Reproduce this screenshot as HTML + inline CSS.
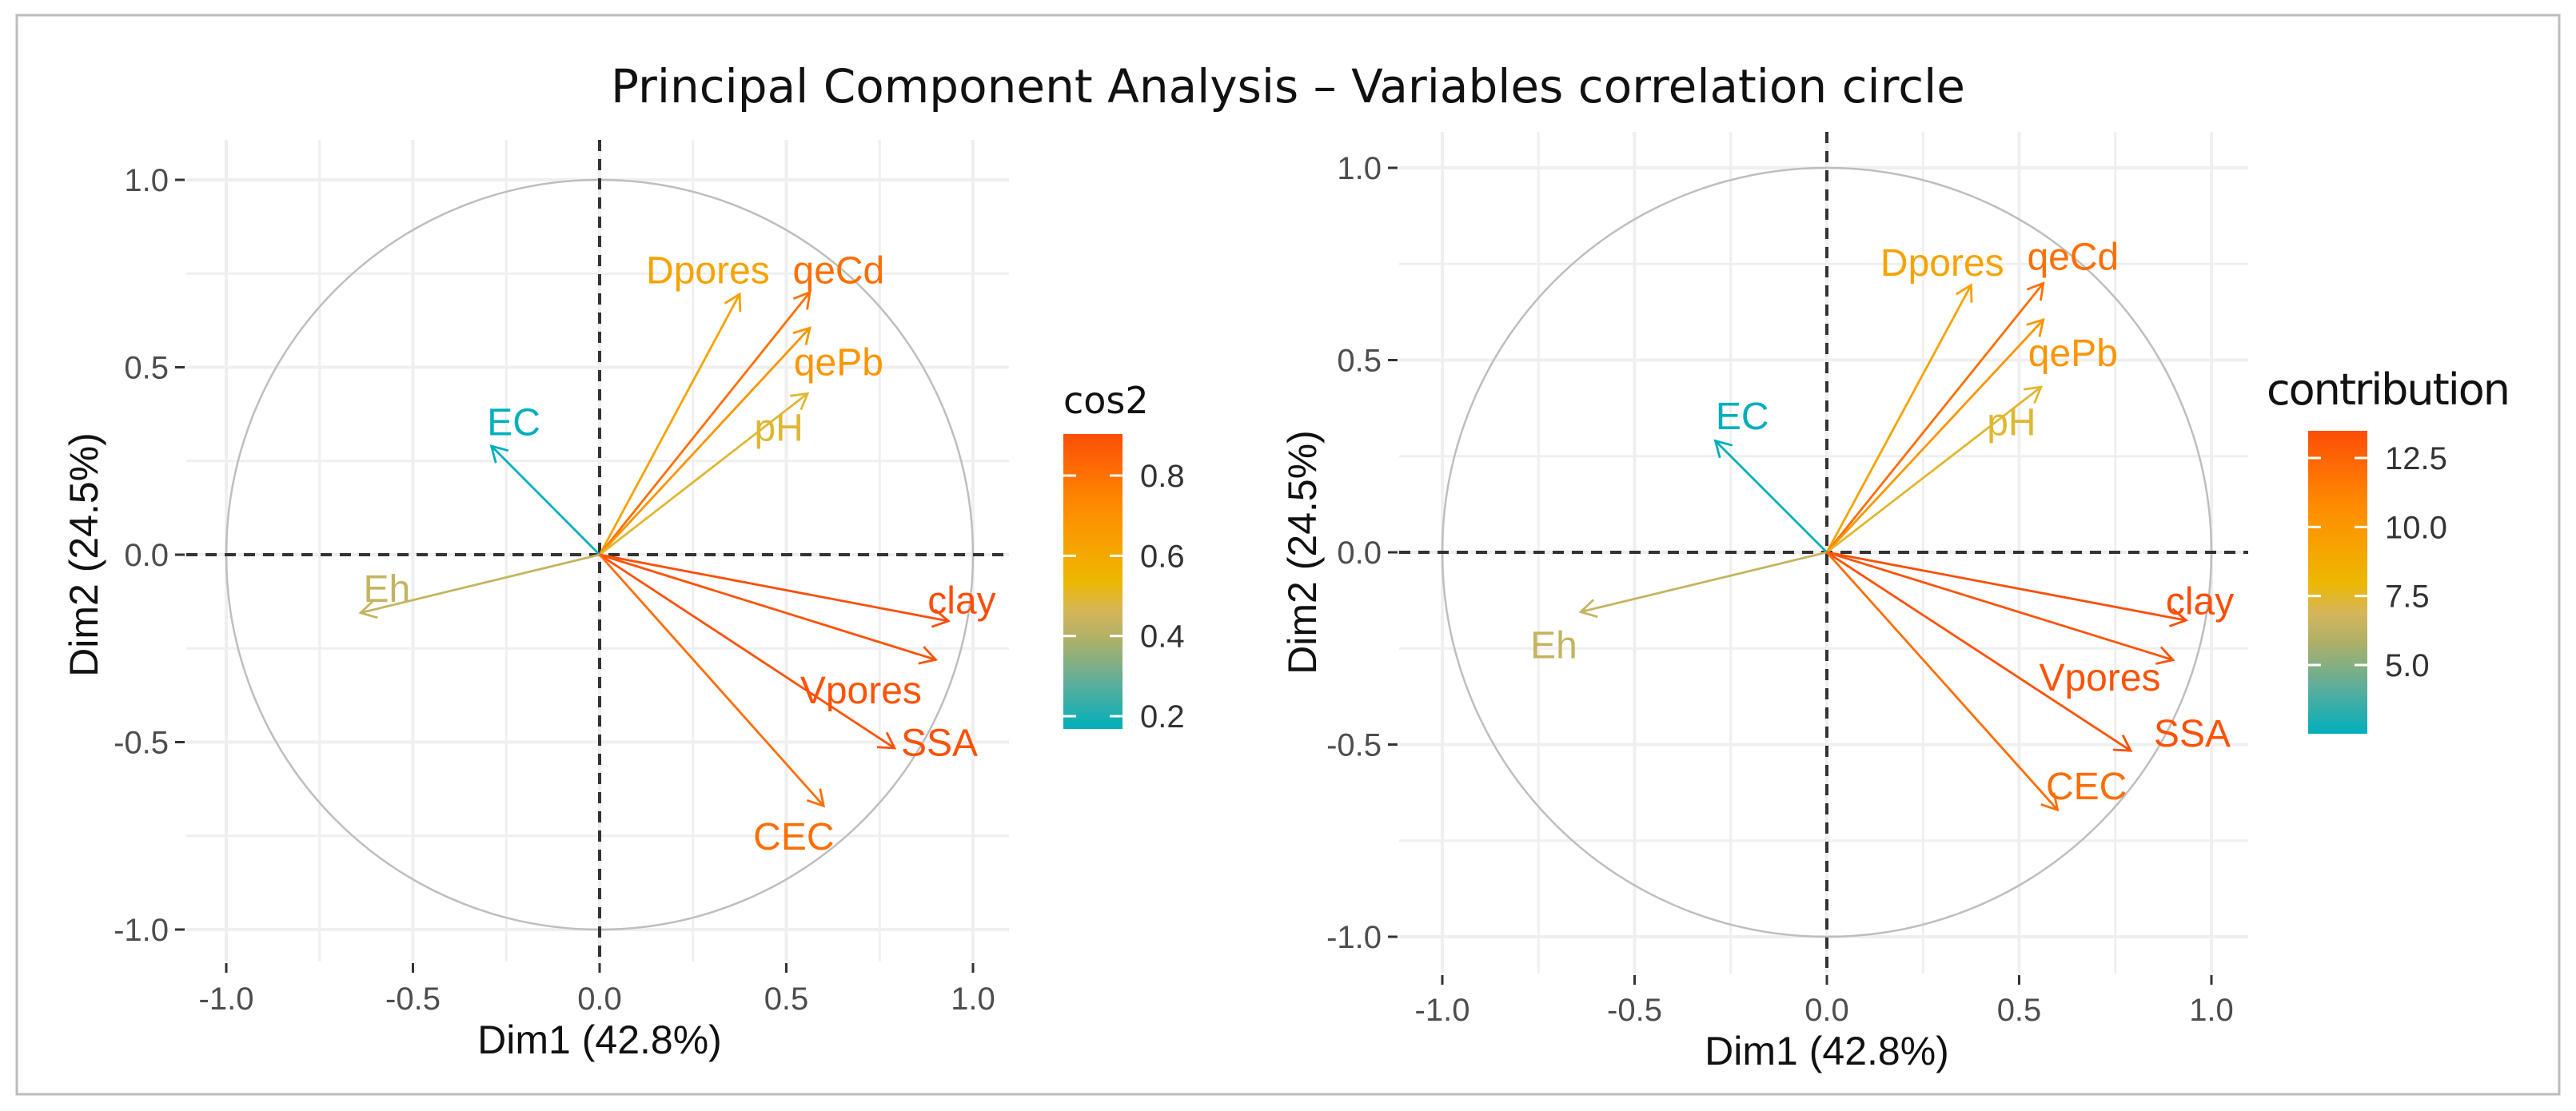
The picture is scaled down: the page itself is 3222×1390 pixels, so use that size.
<!DOCTYPE html>
<html><head><meta charset="utf-8"><style>
html,body{margin:0;padding:0;background:#fff}
svg{display:block}
text{font-family:"Liberation Sans",sans-serif}
</style></head><body>
<svg id="fig" width="3222" height="1390" viewBox="0 0 3222 1390" xmlns="http://www.w3.org/2000/svg">
<defs>
<linearGradient id="lg" x1="0" y1="1" x2="0" y2="0">
<stop offset="0" stop-color="#00AFBB"/><stop offset="0.15" stop-color="#5BAE9C"/><stop offset="0.3" stop-color="#ADB068"/><stop offset="0.4" stop-color="#D5B65A"/><stop offset="0.5" stop-color="#EDB800"/><stop offset="0.75" stop-color="#FF8C00"/><stop offset="1" stop-color="#FC4E07"/>
</linearGradient>
</defs>
<rect x="21" y="19" width="3180" height="1350" fill="none" stroke="#BDBDBD" stroke-width="3"/>
<text x="1611" y="128" text-anchor="middle" font-size="58" fill="#111" textLength="1694" lengthAdjust="spacingAndGlyphs" style="font-family:'DejaVu Sans','Liberation Sans',sans-serif">Principal Component Analysis – Variables correlation circle</text>
</svg>
<script>
const variables = ["Dpores","qeCd","qePb","pH","EC","Eh","clay","Vpores","SSA","CEC"];
const dim1 = [0.375,0.563,0.563,0.557,-0.29,-0.64,0.934,0.90,0.79,0.60];
const dim2 = [0.695,0.70,0.605,0.43,0.29,-0.155,-0.177,-0.28,-0.516,-0.67];
const labelX1 = [0.29,0.64,0.64,0.48,-0.23,-0.57,0.97,0.70,0.91,0.52];
const labelY1 = [0.76,0.76,0.515,0.34,0.355,-0.09,-0.12,-0.36,-0.50,-0.75];
const labelX2 = [0.30,0.64,0.64,0.48,-0.22,-0.71,0.97,0.71,0.95,0.675];
const labelY2 = [0.755,0.77,0.52,0.34,0.355,-0.24,-0.126,-0.324,-0.47,-0.607];
const axisTicks = [-1.0,-0.5,0.0,0.5,1.0];
const axisTickLabels = ["-1.0","-0.5","0.0","0.5","1.0"];
const cos2Ticks = [0.2,0.4,0.6,0.8];
const cos2TickLabels = ["0.2","0.4","0.6","0.8"];
const contribTicks = [5.0,7.5,10.0,12.5];
const contribTickLabels = ["5.0","7.5","10.0","12.5"];

const NS="http://www.w3.org/2000/svg";
const svg=document.getElementById('fig');
function mk(tag,attrs,parent){const e=document.createElementNS(NS,tag);for(const k in attrs)e.setAttribute(k,attrs[k]);(parent||svg).appendChild(e);return e;}
function hex(c){return [parseInt(c.slice(1,3),16),parseInt(c.slice(3,5),16),parseInt(c.slice(5,7),16)];}
const gradPos=[0,0.15,0.3,0.4,0.5,0.75,1];
const gradCol=["#00AFBB","#5BAE9C","#ADB068","#D5B65A","#EDB800","#FF8C00","#FC4E07"].map(hex);
function colorAt(t){t=Math.max(0,Math.min(1,t));let k=0;while(k<gradPos.length-2&&t>gradPos[k+1])k++;
 const u=(t-gradPos[k])/(gradPos[k+1]-gradPos[k]);const a=gradCol[k],b=gradCol[k+1];
 const c=a.map((v,i)=>Math.round(v+(b[i]-v)*u));return `rgb(${c[0]},${c[1]},${c[2]})`;}

const cos2 = variables.map((v,i)=>dim1[i]*dim1[i]+dim2[i]*dim2[i]);
const cos2Sum = cos2.reduce((a,b)=>a+b,0);
const contrib = cos2.map(c=>c/cos2Sum*100);

function panel(p){
  const g=mk('g',{});
  
  
  const sx=v=>p.x0+v*p.ux, sy=v=>p.y0-v*p.uy;
  for(let v=-1;v<=1.001;v+=0.25){
    const major=Math.abs(Math.round(v*2)-v*2)<1e-6;
    const gl=mk('line',{x1:sx(v),x2:sx(v),y1:p.top,y2:p.bottom,stroke:'#EFEFEF','stroke-width':major?4:3},g);
    
    
    const gh=mk('line',{x1:p.left,x2:p.right,y1:sy(v),y2:sy(v),stroke:'#EFEFEF','stroke-width':major?4:3},g);
    
    
  }
  const circ=mk('ellipse',{cx:sx(0),cy:sy(0),rx:p.ux,ry:p.uy,fill:'none',stroke:'#BEBEBE','stroke-width':2.5},g);
  
  
  const hz=mk('line',{x1:p.left,x2:p.right,y1:sy(0),y2:sy(0),stroke:'#333','stroke-width':4,'stroke-dasharray':'14,10'},g);
  
  
  const vz=mk('line',{x1:sx(0),x2:sx(0),y1:p.top,y2:p.bottom,stroke:'#333','stroke-width':4,'stroke-dasharray':'14,10'},g);
  
  
  axisTicks.forEach((v,i)=>{
    const tx=mk('line',{x1:sx(v),x2:sx(v),y1:p.bottom+2,y2:p.bottom+14,stroke:'#333','stroke-width':3},g);
    
    
    const lx=mk('text',{x:sx(v),y:p.xLabY,'text-anchor':'middle','font-size':40,fill:'#4D4D4D'},g);
    lx.textContent=axisTickLabels[i];
    
    
    const ty=mk('line',{x1:p.left-14,x2:p.left-2,y1:sy(v),y2:sy(v),stroke:'#333','stroke-width':3},g);
    
    
    const ly=mk('text',{x:p.left-22,y:sy(v)+14,'text-anchor':'end','font-size':40,fill:'#4D4D4D'},g);
    ly.textContent=axisTickLabels[i];
    
    
  });
  const xt=mk('text',{x:sx(0),y:p.xTitleY,'text-anchor':'middle','font-size':50,fill:'#111'},g);
  xt.textContent='Dim1 (42.8%)';
  
  
  const yt=mk('text',{x:p.yTitleX,y:sy(0),'text-anchor':'middle','font-size':50,fill:'#111',transform:`rotate(-90 ${p.yTitleX} ${sy(0)})`},g);
  yt.textContent='Dim2 (24.5%)';
  
  
  const vals=p.values, mn=Math.min(...vals), mx=Math.max(...vals);
  variables.forEach((name,i)=>{
    const col=colorAt((vals[i]-mn)/(mx-mn));
    const X=sx(dim1[i]), Y=sy(dim2[i]), X0=sx(0), Y0=sy(0);
    const ang=Math.atan2(Y-Y0,X-X0), L=22, w=Math.PI/6;
    const a=mk('path',{d:`M${X0},${Y0}L${X},${Y}M${X-L*Math.cos(ang-w)},${Y-L*Math.sin(ang-w)}L${X},${Y}L${X-L*Math.cos(ang+w)},${Y-L*Math.sin(ang+w)}`,fill:'none',stroke:col,'stroke-width':2.8},g);
    
    
    const t=mk('text',{x:sx(p.lx[i]),y:sy(p.ly[i])+17,'text-anchor':'middle','font-size':48,fill:col},g);
    t.textContent=name;
    
    
  });
  const lg=mk('g',{},g);
  
  
  const lt=mk('text',{x:p.legX,y:p.legTitleY,'font-size':p.legTitleSize,fill:'#111',style:"font-family:'DejaVu Sans','Liberation Sans',sans-serif"},lg);
  lt.textContent=p.legTitle;
  if(p.legTitleLen) lt.setAttribute('textLength',p.legTitleLen);
  
  
  const bar=mk('rect',{x:p.barX,y:p.barTop,width:74,height:p.barBottom-p.barTop,fill:'url(#lg)'},lg);
  
  
  const by=v=>p.barBottom-(v-mn)/(mx-mn)*(p.barBottom-p.barTop);
  p.ticks.forEach((v,i)=>{
    const t1=mk('line',{x1:p.barX,x2:p.barX+16,y1:by(v),y2:by(v),stroke:'#fff','stroke-width':3},lg);
    
    
    const t2=mk('line',{x1:p.barX+58,x2:p.barX+74,y1:by(v),y2:by(v),stroke:'#fff','stroke-width':3},lg);
    
    
    const tl=mk('text',{x:p.barX+96,y:by(v)+14,'font-size':40,fill:'#333'},lg);
    tl.textContent=p.tickLabels[i];
    
    
  });
}
panel({name:'cos2-panel',x0:750,ux:467,y0:694,uy:469,left:233,right:1262,top:175,bottom:1203,xLabY:1263,xTitleY:1318,yTitleX:122,
  values:cos2,lx:labelX1,ly:labelY1,legTitle:'cos2',legTitleY:517,legTitleSize:46,legX:1330,barX:1330,barTop:543,barBottom:912,ticks:cos2Ticks,tickLabels:cos2TickLabels});
panel({name:'contribution-panel',x0:2285,ux:481,y0:691,uy:481,left:1750,right:2812,top:165,bottom:1218,xLabY:1277,xTitleY:1332,yTitleX:1646,
  values:contrib,lx:labelX2,ly:labelY2,legTitle:'contribution',legTitleY:506,legTitleSize:54,legTitleLen:305,legX:2835,barX:2887,barTop:539,barBottom:918,ticks:contribTicks,tickLabels:contribTickLabels});
</script>
</body></html>
